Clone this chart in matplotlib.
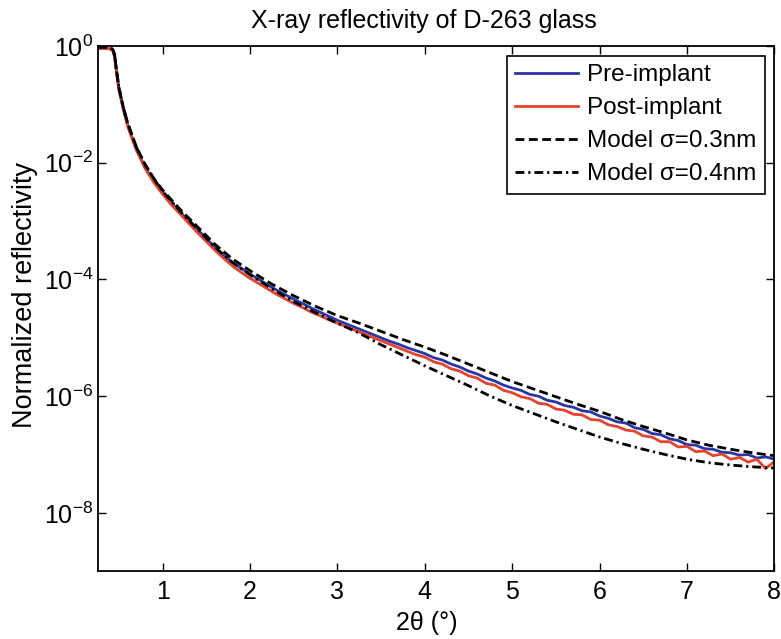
import matplotlib
matplotlib.use('Agg')
import matplotlib.pyplot as plt
import numpy as np
from matplotlib.ticker import NullLocator

plt.rcParams['font.family'] = ['Liberation Sans', 'DejaVu Sans']
plt.rcParams['mathtext.fontset'] = 'custom'
plt.rcParams['mathtext.rm'] = 'Liberation Sans'

# measured curves: 2theta (deg) and log10 of normalized reflectivity
meas_x = [0.26, 0.30, 0.35, 0.40, 0.43, 0.45, 0.47, 0.50, 0.55, 0.60, 0.70, 0.80, 0.90,
          1.0, 1.1, 1.2, 1.3, 1.4, 1.5, 1.6, 1.7, 1.8, 1.9,
          2.0, 2.1, 2.2, 2.3, 2.4, 2.5, 2.6, 2.7, 2.8, 2.9,
          3.0, 3.1, 3.2, 3.3, 3.4, 3.5, 3.6, 3.7, 3.8, 3.9,
          4.0, 4.1, 4.2, 4.3, 4.4, 4.5, 4.6, 4.7, 4.8, 4.9,
          5.0, 5.1, 5.2, 5.3, 5.4, 5.5, 5.6, 5.7, 5.8, 5.9,
          6.0, 6.1, 6.2, 6.3, 6.4, 6.5, 6.6, 6.7, 6.8, 6.9,
          7.0, 7.1, 7.2, 7.3, 7.4, 7.5, 7.6, 7.7, 7.8, 7.9, 8.0]

pre_exp = [-0.04, -0.04, -0.04, -0.05, -0.08, -0.18, -0.42, -0.74, -1.08, -1.36, -1.77, -2.08, -2.32,
           -2.51, -2.69, -2.85, -3.00, -3.15, -3.30, -3.45, -3.59, -3.71, -3.81,
           -3.91, -4.00, -4.09, -4.18, -4.26, -4.34, -4.41, -4.49, -4.56, -4.63,
           -4.70, -4.76, -4.82, -4.88, -4.94, -5.00, -5.06, -5.11, -5.17, -5.22,
           -5.27, -5.34, -5.38, -5.45, -5.50, -5.57, -5.62, -5.69, -5.74, -5.81,
           -5.86, -5.90, -5.97, -6.00, -6.07, -6.10, -6.16, -6.19, -6.25, -6.27,
           -6.34, -6.38, -6.44, -6.46, -6.54, -6.57, -6.64, -6.66, -6.73, -6.76,
           -6.83, -6.84, -6.90, -6.91, -6.96, -6.97, -7.01, -7.00, -7.06, -7.04, -7.08]

post_exp = [-0.04, -0.04, -0.04, -0.05, -0.08, -0.19, -0.43, -0.75, -1.09, -1.38, -1.79, -2.10, -2.34,
            -2.54, -2.72, -2.88, -3.04, -3.20, -3.35, -3.50, -3.64, -3.77, -3.88,
            -3.98, -4.07, -4.16, -4.25, -4.33, -4.41, -4.48, -4.56, -4.62, -4.69,
            -4.75, -4.81, -4.87, -4.93, -4.99, -5.05, -5.11, -5.17, -5.23, -5.29,
            -5.33, -5.41, -5.45, -5.53, -5.57, -5.65, -5.69, -5.78, -5.81, -5.90,
            -5.94, -6.01, -6.04, -6.12, -6.14, -6.22, -6.24, -6.31, -6.32, -6.40,
            -6.41, -6.49, -6.52, -6.58, -6.60, -6.68, -6.70, -6.78, -6.78, -6.87,
            -6.86, -6.95, -6.94, -7.02, -6.99, -7.08, -7.05, -7.13, -7.08, -7.24, -7.12]

# model curves
model_x = [0.26, 0.35, 0.40, 0.43, 0.45, 0.47, 0.50, 0.55, 0.60, 0.70, 0.80, 0.90,
           1.0, 1.2, 1.4, 1.6, 1.8, 2.0, 2.25, 2.5, 2.75, 3.0, 3.25, 3.5, 3.75,
           4.0, 4.25, 4.5, 4.75, 5.0, 5.25, 5.5, 5.75, 6.0, 6.25, 6.5, 6.75,
           7.0, 7.25, 7.5, 7.75, 8.0]

model03_exp = [-0.02, -0.02, -0.03, -0.06, -0.15, -0.40, -0.72, -1.05, -1.32, -1.73, -2.03, -2.27,
               -2.47, -2.80, -3.10, -3.40, -3.65, -3.85, -4.08, -4.28, -4.46, -4.62, -4.75, -4.89, -5.03,
               -5.16, -5.30, -5.45, -5.60, -5.75, -5.88, -6.01, -6.14, -6.26, -6.40, -6.52, -6.63,
               -6.75, -6.84, -6.91, -6.97, -7.02]

model04_exp = [-0.02, -0.02, -0.03, -0.06, -0.15, -0.40, -0.72, -1.05, -1.33, -1.74, -2.04, -2.28,
               -2.49, -2.83, -3.14, -3.45, -3.71, -3.92, -4.16, -4.38, -4.57, -4.75, -4.92, -5.12, -5.30,
               -5.48, -5.65, -5.82, -6.00, -6.16, -6.30, -6.44, -6.57, -6.70, -6.81, -6.91, -7.00,
               -7.08, -7.14, -7.18, -7.21, -7.23]

labels = ['Pre-implant', 'Post-implant', 'Model \u03c3=0.3nm', 'Model \u03c3=0.4nm']
x_ticks = [1, 2, 3, 4, 5, 6, 7, 8]
y_ticks = [1e-8, 1e-6, 1e-4, 1e-2, 1e0]


def main():
    fig = plt.figure(figsize=(7.81, 6.39), dpi=100)
    ax = fig.add_axes([0.1255, 0.106, 0.866, 0.822])

    ax.semilogy(meas_x, 10.0 ** np.array(pre_exp), color='#2a36a6', lw=2.0, label=labels[0])
    ax.semilogy(meas_x, 10.0 ** np.array(post_exp), color='#e5432c', lw=2.0, label=labels[1])
    ax.semilogy(model_x, 10.0 ** np.array(model03_exp), color='black', lw=2.0,
                ls=(0, (3.2, 1.6)), label=labels[2])
    ax.semilogy(model_x, 10.0 ** np.array(model04_exp), color='black', lw=2.0,
                ls=(0, (3.2, 1.4, 0.8, 1.4)), label=labels[3])

    ax.set_xlim(0.26, 8)
    ax.set_ylim(1e-9, 1)
    ax.set_xticks(x_ticks)
    ax.set_yticks(y_ticks)
    ax.yaxis.set_minor_locator(NullLocator())
    ax.tick_params(direction='in', top=True, right=True, labelsize=18, length=6, width=1)
    ax.tick_params(axis='x', pad=6)
    for s in ax.spines.values():
        s.set_linewidth(1.3)

    ax.set_title('X-ray reflectivity of D-263 glass', fontsize=18, pad=13, x=0.482)
    ax.set_xlabel('2\u03b8 (\u00b0)', fontsize=18, labelpad=5)
    ax.xaxis.label.set_x(0.486)
    ax.set_ylabel('Normalized reflectivity', fontsize=19.5, labelpad=4)
    ax.yaxis.label.set_y(0.527)

    leg = ax.legend(loc='upper right', fontsize=17.5, fancybox=False, framealpha=1,
                    edgecolor='black', handlelength=2.6, handletextpad=0.35,
                    borderaxespad=0.4, borderpad=0.35, labelspacing=0.45)
    leg.get_frame().set_linewidth(1.2)

    fig.savefig('out.png', dpi=100)


if __name__ == '__main__':
    main()
